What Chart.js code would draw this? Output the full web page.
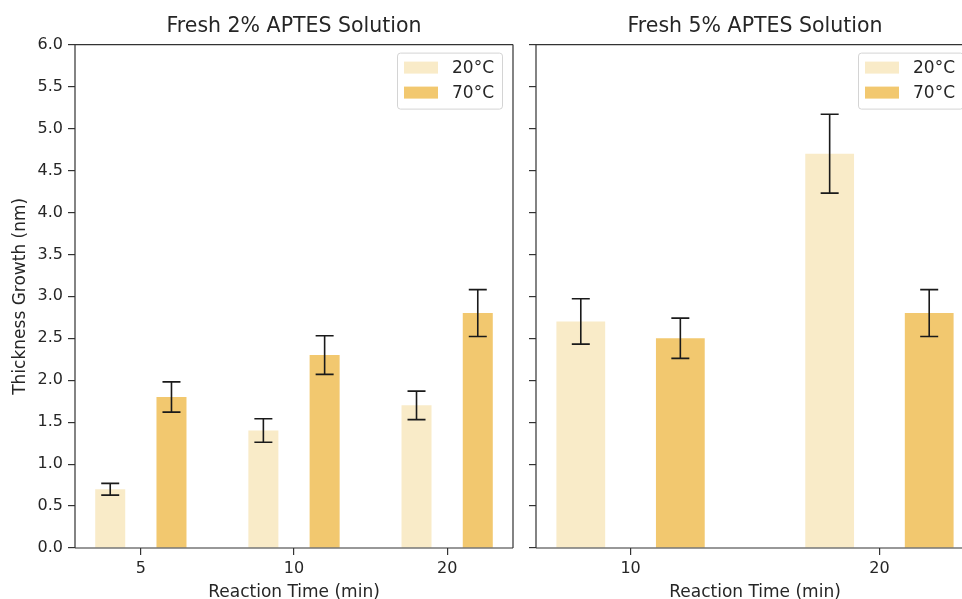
<!DOCTYPE html>
<html>
<head>
<meta charset="utf-8">
<script src="https://cdn.jsdelivr.net/npm/chart.js@4.4.1/dist/chart.umd.min.js"></script>
<style>
html, body { margin: 0; padding: 0; background: #fff; overflow: hidden; width: 962px; height: 599px; }
#left { position: absolute; left: 0; top: 0; }
#right { position: absolute; left: 520px; top: 0; }
</style>
</head>
<body>
<canvas id="left" width="525" height="599"></canvas>
<canvas id="right" width="470" height="599"></canvas>
<script>
// Fresh 2% APTES
var times2 = ["5", "10", "20"];
var cold2 = [0.70, 1.40, 1.70];
var hot2 = [1.80, 2.30, 2.80];
var coldErr2 = [0.07, 0.14, 0.17];
var hotErr2 = [0.18, 0.23, 0.28];

// Fresh 5% APTES
var times5 = ["10", "20"];
var cold5 = [2.70, 4.70];
var hot5 = [2.50, 2.80];
var coldErr5 = [0.27, 0.47];
var hotErr5 = [0.24, 0.28];

var seriesNames = ["20°C", "70°C"];
var seriesColors = ["#f9ebc8", "#f2c86f"];

Chart.defaults.font.family = "'DejaVu Sans', sans-serif";
Chart.defaults.color = "#262626";

// spines round the plot area (right one only on the first panel)
var framePlugin = {
    id: 'frame',
    afterDraw: function (chart, args, opts) {
        var a = chart.chartArea, ctx = chart.ctx;
        var ext = opts.right ? 0 : 20;
        ctx.save();
        ctx.strokeStyle = '#333';
        ctx.lineWidth = 1.2;
        ctx.beginPath();
        ctx.moveTo(a.left, a.bottom);
        ctx.lineTo(a.left, a.top);
        ctx.lineTo(a.right + ext, a.top);
        ctx.moveTo(a.left, a.bottom);
        ctx.lineTo(a.right + ext, a.bottom);
        if (opts.right) {
            ctx.moveTo(a.right, a.top);
            ctx.lineTo(a.right, a.bottom);
        }
        ctx.stroke();
        ctx.restore();
    }
};

// error bars from each dataset's errors array
var errorBarPlugin = {
    id: 'errorBars',
    afterDatasetsDraw: function (chart) {
        var ctx = chart.ctx, ys = chart.scales.y;
        ctx.save();
        ctx.strokeStyle = '#1a1a1a';
        ctx.lineWidth = 1.6;
        chart.data.datasets.forEach(function (ds, i) {
            var meta = chart.getDatasetMeta(i);
            meta.data.forEach(function (bar, j) {
                var v = ds.data[j].y, e = ds.errors[j];
                var y1 = ys.getPixelForValue(v + e), y2 = ys.getPixelForValue(v - e);
                ctx.beginPath();
                ctx.moveTo(bar.x, y1); ctx.lineTo(bar.x, y2);
                ctx.moveTo(bar.x - 9, y1); ctx.lineTo(bar.x + 9, y1);
                ctx.moveTo(bar.x - 9, y2); ctx.lineTo(bar.x + 9, y2);
                ctx.stroke();
            });
        });
        ctx.restore();
    }
};

// legend box inside the plot, top right
var boxLegendPlugin = {
    id: 'boxLegend',
    afterDraw: function (chart) {
        var a = chart.chartArea, ctx = chart.ctx;
        var w = 105, h = 56;
        var x = a.right - 11 - w, y = a.top + 8;
        ctx.save();
        ctx.fillStyle = 'rgba(255,255,255,0.85)';
        ctx.strokeStyle = '#d4d4d4';
        ctx.lineWidth = 1;
        ctx.beginPath();
        ctx.roundRect(x + 0.5, y + 0.5, w, h, 3);
        ctx.fill();
        ctx.stroke();
        ctx.font = "17px 'DejaVu Sans'";
        ctx.textBaseline = 'middle';
        chart.data.datasets.forEach(function (ds, i) {
            var cy = y + 15 + i * 25;
            ctx.fillStyle = ds.backgroundColor;
            ctx.fillRect(x + 7, cy - 6, 34, 12);
            ctx.fillStyle = '#262626';
            ctx.fillText(ds.label, x + 55, cy + 1);
        });
        ctx.restore();
    }
};

function makeChart(id, times, cold, hot, coldErr, hotErr, title, xMin, xMax, showY, yWidth, padRight) {
    return new Chart(document.getElementById(id), {
        type: 'bar',
        data: {
            datasets: [{
                label: seriesNames[0],
                data: cold.map(function (v, i) { return { x: i, y: v }; }),
                errors: coldErr,
                backgroundColor: seriesColors[0],
                borderWidth: 0,
                categoryPercentage: 0.8,
                barPercentage: 0.49
            }, {
                label: seriesNames[1],
                data: hot.map(function (v, i) { return { x: i, y: v }; }),
                errors: hotErr,
                backgroundColor: seriesColors[1],
                borderWidth: 0,
                categoryPercentage: 0.8,
                barPercentage: 0.49
            }]
        },
        options: {
            responsive: false,
            animation: false,
            layout: { padding: { left: 0, right: padRight, top: 0, bottom: 0 } },
            plugins: {
                legend: { display: false },
                tooltip: { enabled: false },
                frame: { right: showY },
                title: {
                    display: true,
                    text: title,
                    fullSize: false,
                    font: { size: 20.5, weight: 'normal' },
                    color: '#262626',
                    padding: { top: 14, bottom: 6 }
                }
            },
            scales: {
                x: {
                    type: 'linear',
                    min: xMin,
                    max: xMax,
                    offset: false,
                    grid: { offset: false, drawOnChartArea: false, drawTicks: true, tickLength: 7, color: '#333', lineWidth: 1.2 },
                    border: { display: false },
                    ticks: {
                        stepSize: 1,
                        includeBounds: false,
                        autoSkip: false,
                        maxRotation: 0,
                        padding: 4,
                        font: { size: 16 },
                        callback: function (v) { return Number.isInteger(v) && times[v] !== undefined ? times[v] : ''; }
                    },
                    title: { display: true, text: 'Reaction Time (min)', font: { size: 17 }, padding: { top: 0, bottom: -4 } },
                    afterFit: function (s) { s.height = 51; }
                },
                y: {
                    min: 0,
                    max: 6,
                    grid: { drawOnChartArea: false, drawTicks: true, tickLength: 7, color: '#333', lineWidth: 1.2 },
                    border: { display: false },
                    ticks: {
                        stepSize: 0.5,
                        padding: 5,
                        font: { size: 16 },
                        callback: function (v) { return showY ? v.toFixed(1) : ''; }
                    },
                    title: { display: showY, text: 'Thickness Growth (nm)', font: { size: 17 }, padding: { top: 10, bottom: 0 } },
                    afterFit: function (s) { s.width = yWidth; }
                }
            }
        },
        plugins: [framePlugin, errorBarPlugin, boxLegendPlugin]
    });
}

makeChart('left', times2, cold2, hot2, coldErr2, hotErr2, 'Fresh 2% APTES Solution', -0.43, 2.43, true, 75, 12);
// the 5% panel runs past the right edge of the page, as in the source figure
makeChart('right', times5, cold5, hot5, coldErr5, hotErr5, 'Fresh 5% APTES Solution', -0.38, 1.38, false, 16, 16);
</script>
</body>
</html>
